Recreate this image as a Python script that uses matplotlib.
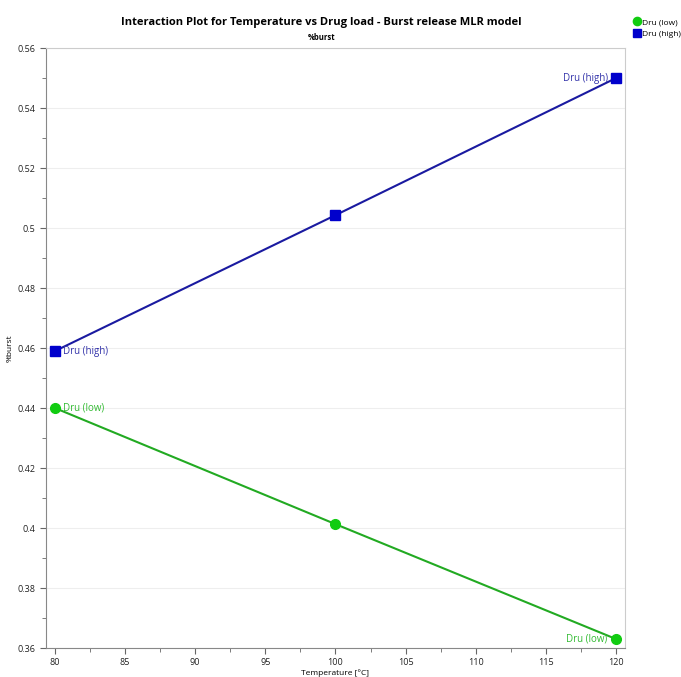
import matplotlib
matplotlib.use("Agg")
import matplotlib.pyplot as plt
from matplotlib.ticker import MultipleLocator

plt.rcParams['font.family'] = ['Open Sans', 'DejaVu Sans']

temperature = [80, 100, 120]
dru_high = [0.459, 0.5043, 0.550]
dru_low = [0.440, 0.4013, 0.363]
series_names = ["Dru (low)", "Dru (high)"]

fig = plt.figure(figsize=(6.81, 6.77), dpi=100)
ax = fig.add_axes([0.0675, 0.0428, 0.8503, 0.8862])

green = '#11cc11'
ax.plot(temperature, dru_low, color='#22aa22', lw=1.5, zorder=3)
ax.plot(temperature, dru_low, 'o', color=green, ms=7, zorder=4, label=series_names[0])
ax.plot(temperature, dru_high, color='#1a1aa0', lw=1.5, zorder=3)
ax.plot(temperature, dru_high, 's', color='#0000cc', ms=7, zorder=4, label=series_names[1])

ax.annotate(series_names[1], (temperature[0], dru_high[0]), xytext=(6, 0), textcoords='offset points',
            color='#3333aa', fontsize=7, va='center', ha='left')
ax.annotate(series_names[1], (temperature[-1], dru_high[-1]), xytext=(-6, 0), textcoords='offset points',
            color='#3333aa', fontsize=7, va='center', ha='right')
ax.annotate(series_names[0], (temperature[0], dru_low[0]), xytext=(6, 0), textcoords='offset points',
            color='#33bb33', fontsize=7, va='center', ha='left')
ax.annotate(series_names[0], (temperature[-1], dru_low[-1]), xytext=(-6, 0), textcoords='offset points',
            color='#33bb33', fontsize=7, va='center', ha='right')

ax.set_xlim(79.36, 120.64)
ax.set_ylim(0.36, 0.56)
ax.xaxis.set_major_locator(MultipleLocator(5))
ax.xaxis.set_minor_locator(MultipleLocator(2.5))
ax.yaxis.set_major_locator(MultipleLocator(0.02))
ax.yaxis.set_minor_locator(MultipleLocator(0.01))
ax.set_yticklabels([f"{v:g}" for v in ax.get_yticks()])
ax.tick_params(which='both', direction='out', color='#666666', labelsize=6.5, labelcolor='#222222')
ax.tick_params(which='major', length=4)
ax.tick_params(which='minor', length=3)
ax.grid(axis='y', which='major', color='#eeeeee', lw=0.8)
ax.set_axisbelow(True)
for s in ['left', 'bottom']:
    ax.spines[s].set_color('#888888')
for s in ['top', 'right']:
    ax.spines[s].set_color('#cccccc')

ax.set_xlabel('Temperature [°C]', fontsize=6, labelpad=1)
ax.set_ylabel('%burst', fontsize=6)
ax.yaxis.set_label_coords(-0.055, 0.5)

fig.text(0.472, 0.967, 'Interaction Plot for Temperature vs Drug load - Burst release MLR model',
         ha='center', va='center', fontsize=8, fontweight='bold')
fig.text(0.472, 0.945, '%burst', ha='center', va='center', fontsize=5.5, fontweight='bold')

fig.legend(loc='upper left', bbox_to_anchor=(0.925, 0.978), frameon=False, fontsize=6,
           handletextpad=0.2, labelspacing=0.5, handlelength=0.8, borderaxespad=0, markerscale=0.85)

fig.savefig('out.png', dpi=100)
